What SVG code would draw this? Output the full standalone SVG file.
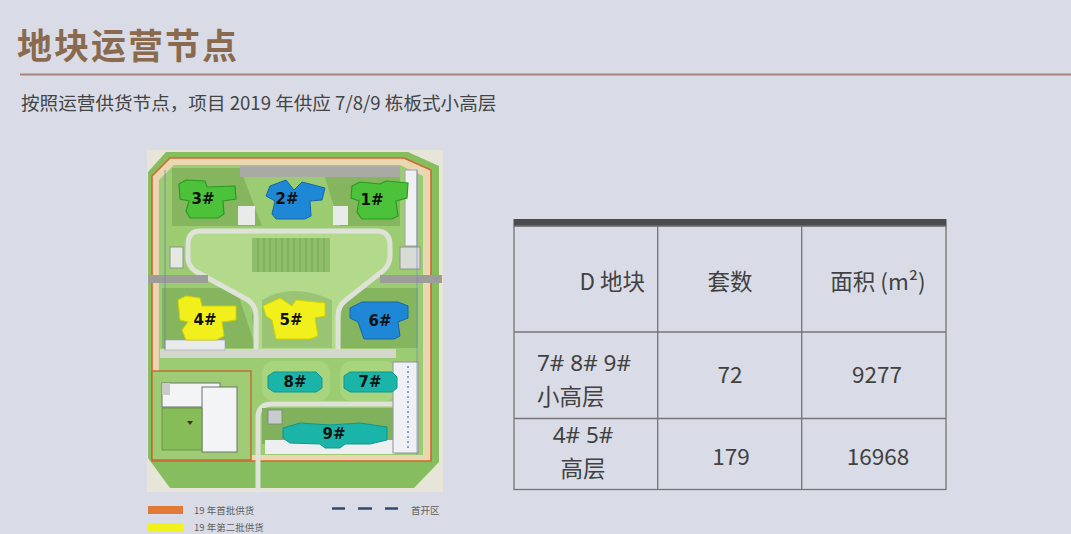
<svg xmlns="http://www.w3.org/2000/svg" width="1071" height="534" viewBox="0 0 1071 534">
<style>
.cjk{font-family:"Noto Sans CJK SC","Noto Sans",sans-serif}
.cell{font-family:"Noto Sans CJK SC","Noto Sans",sans-serif;font-size:22.5px;fill:#414141}
.num{font-family:"Noto Sans","Noto Sans CJK SC",sans-serif;font-size:22.5px;fill:#414141}
.lbl{font-family:"DejaVu Sans","Liberation Sans",sans-serif;font-weight:bold;font-size:15px;fill:#111;text-anchor:middle}
.grn{fill:#4cc23a;stroke:#2b9a1f;stroke-width:1.2}
.blu{fill:#1f88d6;stroke:#1565a8;stroke-width:1}
.yel{fill:#f1f01c;stroke:#d4d000;stroke-width:1}
.tea{fill:#1bb4a8;stroke:#12968c;stroke-width:1}
.shade{fill:#6a9c49;opacity:.45}
.road{fill:none;stroke:#dfe2d8;stroke-linecap:round;stroke-linejoin:round}
.tl{stroke:#747474;stroke-width:1.3;fill:none}
.leg{font-family:"Noto Sans CJK SC","Noto Sans",sans-serif;font-size:9.5px;fill:#5e5e5e}
</style>
<rect width="1071" height="534" fill="#d9dce6"/>

<g id="header">
<text class="cjk" x="17" y="59" font-size="35" font-weight="bold" letter-spacing="2" fill="#8a6a4e">地块运营节点</text>
<line x1="20" y1="74.5" x2="1071" y2="74.5" stroke="#a3857a" stroke-width="2"/>
<text class="cjk" x="21" y="110" font-size="18.6" fill="#444">按照运营供货节点，项目 2019 年供应 7/8/9 栋板式小高层</text>
</g>

<g id="site-plan">
<rect x="147" y="150" width="296" height="342" fill="#e7e5d7"/>
<polygon points="166,152 408,152 439,166 439,462 414,488 170,488 148,458 148,172" fill="#86bd5e"/>
<polygon points="170,158 404,158 431,170 431,461 152,461 152,176" fill="#e8d7b0" stroke="#d2672c" stroke-width="1.6"/>
<polygon points="174,165 400,165 423,176 423,455 159,455 159,180" fill="#9ccc72"/>
<polygon class="shade" points="172,168 240,168 262,226 172,226"/>
<polygon class="shade" points="322,168 400,168 400,226 340,226"/>
<polygon class="shade" points="162,288 236,288 256,348 162,348"/>
<polygon class="shade" points="342,288 418,288 418,348 340,348"/>
<ellipse class="shade" cx="292" cy="318" rx="40" ry="28"/>
<rect x="240" y="166" width="160" height="11" fill="#a9aaa3"/>
<rect x="405" y="170" width="12" height="76" fill="#eef0f2" stroke="#a0a2a8" stroke-width="1"/>
<rect x="400" y="247" width="20" height="22" fill="#d9dcd6" stroke="#8e918c" stroke-width="1"/>
<rect x="170" y="247" width="13" height="21" fill="#e4e7e2" stroke="#8e918c" stroke-width="1"/>
<rect x="238" y="206" width="17" height="19" fill="#e9ebea"/>
<rect x="333" y="206" width="15" height="19" fill="#e9ebea"/>
<path d="M200 231 L376 231 Q390 231 390 245 L390 256 Q390 264 384 270 L346 300 Q338 306 338 316 L338 352 L256 352 L256 316 Q256 306 248 300 L195 271 Q188 266 188 258 L188 245 Q188 231 200 231 Z" fill="#b3da8a"/>
<path class="road" stroke-width="5" d="M256 352 L256 316 Q256 306 248 300 L195 271 Q188 266 188 258 L188 245 Q188 231 200 231 L376 231 Q390 231 390 245 L390 256 Q390 264 384 270 L346 300 Q338 306 338 316 L338 352"/>
<path d="M262 300 Q292 282 332 300 L332 348 L262 348 Z" fill="#86b564" opacity=".6"/>
<rect x="252" y="238" width="78" height="34" fill="#8fbe6b"/>
<g stroke="#6f9f51" stroke-width=".8">
<line x1="258" y1="238" x2="258" y2="272"/><line x1="264" y1="238" x2="264" y2="272"/><line x1="270" y1="238" x2="270" y2="272"/><line x1="276" y1="238" x2="276" y2="272"/><line x1="282" y1="238" x2="282" y2="272"/><line x1="288" y1="238" x2="288" y2="272"/><line x1="294" y1="238" x2="294" y2="272"/><line x1="300" y1="238" x2="300" y2="272"/><line x1="306" y1="238" x2="306" y2="272"/><line x1="312" y1="238" x2="312" y2="272"/><line x1="318" y1="238" x2="318" y2="272"/><line x1="324" y1="238" x2="324" y2="272"/>
</g>
<rect x="148" y="275" width="60" height="8" fill="#9c9d98"/>
<rect x="380" y="275" width="62" height="8" fill="#9c9d98"/>
<rect x="160" y="349" width="236" height="9" fill="#d4d8cc"/>
<rect x="165" y="340" width="60" height="10" fill="#e8eaec" stroke="#9aa0b8" stroke-width=".6"/>
<rect x="262" y="361" width="68" height="40" rx="12" fill="#a8d47e"/>
<rect x="340" y="361" width="56" height="40" rx="12" fill="#a8d47e"/>
<path class="road" stroke-width="5" d="M258 488 L258 418 Q258 404 272 404 L392 404"/>
<rect x="262" y="408" width="132" height="36" fill="#80b25e"/>
<rect x="265" y="440" width="130" height="14" fill="#eceef0"/>
<rect x="268" y="410" width="14" height="14" fill="#c9cccd" stroke="#7d807e" stroke-width=".8"/>
<rect x="393" y="362" width="25" height="91" fill="#eef0f3" stroke="#8f929c" stroke-width="1"/>
<line x1="408" y1="366" x2="408" y2="450" stroke="#5a6ac4" stroke-width="1.2" stroke-dasharray="2 3"/>
<line x1="417" y1="170" x2="417" y2="455" stroke="#7b7fd0" stroke-width=".8" opacity=".8"/>
<line x1="165" y1="170" x2="165" y2="350" stroke="#6a78c0" stroke-width="1" opacity=".7"/>
<rect x="152" y="371" width="99" height="89" fill="#9fcb74" stroke="#c8602a" stroke-width="1.3"/>
<rect x="162" y="383" width="58" height="24" fill="#f3f4f5" stroke="#6e706e" stroke-width="1"/>
<rect x="202" y="387" width="35" height="65" fill="#f3f4f5" stroke="#6e706e" stroke-width="1"/>
<rect x="162" y="408" width="40" height="42" fill="#86bd59" stroke="#5f8a45" stroke-width=".8"/>
<rect x="162" y="383" width="8" height="12" fill="#c9cbc8"/>
<polygon points="187,421 193,421 190,425" fill="#333"/>
<polygon class="grn" points="179,184 186,180 205,181 207,187 235,186 236,199 223,201 224,214 218,218 190,218 186,211 189,201 180,199"/>
<polygon class="blu" points="266,196 270,186 286,180 294,190 302,182 325,188 322,200 310,201 311,216 305,219 276,219 272,214 275,201"/>
<polygon class="grn" points="352,186 360,182 380,184 386,181 408,183 407,198 396,201 398,216 392,219 362,219 357,212 359,201 351,198"/>
<polygon class="yel" points="178,300 186,296 200,298 202,306 236,306 236,320 222,322 224,336 216,340 186,340 182,330 188,322 180,320"/>
<polygon class="yel" points="263,306 280,298 292,306 296,300 325,303 325,316 315,318 318,336 310,339 276,339 272,320 266,316"/>
<polygon class="blu" points="350,308 362,302 398,302 408,306 408,318 398,322 400,336 394,339 364,339 358,322 350,318"/>
<polygon class="tea" points="268,376 274,372 316,372 322,378 322,388 316,392 274,392 268,388"/>
<polygon class="tea" points="344,376 350,372 392,372 397,377 397,388 392,392 350,392 344,388"/>
<polygon class="tea" points="283,428 300,423 330,425 360,423 387,427 387,440 370,444 345,444 340,448 325,448 320,444 290,443 283,438"/>
<text class="lbl" x="203" y="204">3#</text>
<text class="lbl" x="287" y="204">2#</text>
<text class="lbl" x="372" y="205">1#</text>
<text class="lbl" x="205" y="325">4#</text>
<text class="lbl" x="291" y="325">5#</text>
<text class="lbl" x="380" y="326">6#</text>
<text class="lbl" x="295" y="387">8#</text>
<text class="lbl" x="370" y="387">7#</text>
<text class="lbl" x="334" y="439">9#</text>
</g>

<g id="legend">
<rect x="148" y="506" width="35" height="8" fill="#e07a36"/>
<text class="leg" x="194" y="513.5">19 年首批供货</text>
<rect x="148" y="523" width="35" height="9" fill="#f1f11c"/>
<text class="leg" x="194" y="531">19 年第二批供货</text>
<g stroke="#2d4b70" stroke-width="2.5">
<line x1="332" y1="508.5" x2="345" y2="508.5"/>
<line x1="358" y1="508.5" x2="372" y2="508.5"/>
<line x1="385" y1="508.5" x2="398" y2="508.5"/>
</g>
<text class="leg" x="411" y="513.5">首开区</text>
</g>

<g id="table">
<rect x="513.5" y="219" width="433" height="7.5" fill="#4b4b4b"/>
<rect class="tl" x="514" y="226" width="432" height="263.5"/>
<line class="tl" x1="657.7" y1="226" x2="657.7" y2="489.5"/>
<line class="tl" x1="801.7" y1="226" x2="801.7" y2="489.5"/>
<line class="tl" x1="514" y1="332" x2="946" y2="332"/>
<line class="tl" x1="514" y1="418.5" x2="946" y2="418.5"/>
<text class="cell" x="645" y="290" text-anchor="end">D 地块</text>
<text class="cell" x="730" y="290" text-anchor="middle">套数</text>
<text class="cell" x="878" y="290" text-anchor="middle">面积 (m²)</text>
<text class="num" x="537" y="371">7# 8# 9#</text>
<text class="cell" x="537" y="404.5" font-size="22">小高层</text>
<text class="cell" x="730" y="383" text-anchor="middle">72</text>
<text class="cell" x="877" y="383" text-anchor="middle">9277</text>
<text class="num" x="583" y="443" text-anchor="middle">4# 5#</text>
<text class="cell" x="583" y="477" text-anchor="middle">高层</text>
<text class="cell" x="731" y="465" text-anchor="middle">179</text>
<text class="cell" x="878" y="465" text-anchor="middle">16968</text>
</g>
</svg>
